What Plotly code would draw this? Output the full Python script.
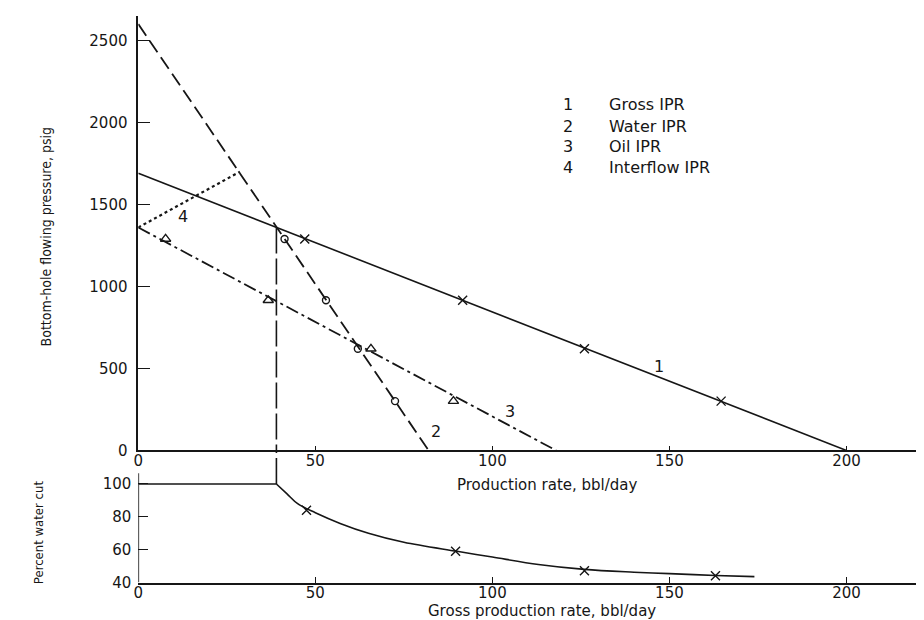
import plotly.graph_objects as go

# ---------------- data ----------------
# IPR lines: production rate (bbl/day) vs bottom-hole flowing pressure (psig)
gross_q = [0, 200]
gross_p = [1690, 0]
water_q = [0, 82]
water_p = [2600, 0]
oil_q = [0, 118]
oil_p = [1360, 0]
interflow_q = [0, 28.7]
interflow_p = [1360, 1700]
# vertical line at the gross/water intersection
cut_q = [39, 39]
cut_p = [1360, 0]
cut_wc = [100, 125]

# test points
test_p = [1290, 916, 620, 301]
gross_pts_q = [47, 91.6, 126, 164.6]
water_pts_q = [41.3, 53, 62, 72.5]
oil_pts_q = [7.7, 36.7, 65.7, 89]

# percent water cut vs gross production rate
wc_flat_q = [0, 39]
wc_flat_v = [100, 100]
wc_q = [39, 42, 45, 50, 57, 65, 75, 90, 100, 113, 126, 140, 150, 163, 174]
wc_v = [100, 94, 88, 82.5, 76, 70, 64.5, 59, 55.5, 51, 48, 46.3, 45.4, 44.3, 43.6]
wc_pts_q = [47.5, 89.6, 126, 163]
wc_pts_v = [84, 59, 47.2, 44.2]

# curve labels
curve_lbl_text = ["1", "2", "3", "4"]
curve_lbl_q = [147, 84, 105, 12.5]
curve_lbl_p = [512, 114, 235, 1428]

legend_nums = ["1", "2", "3", "4"]
legend_labels = ["Gross IPR", "Water IPR", "Oil IPR", "Interflow IPR"]

x_ticks = [0, 50, 100, 150, 200]
p_ticks = [0, 500, 1000, 1500, 2000, 2500]
wc_ticks = [40, 60, 80, 100]

# ---------------- styling ----------------
INK = "#161616"
SANS = "DejaVu Sans, Verdana, sans-serif"
TICKFONT = dict(family=SANS, size=15, color=INK)
TITLEFONT = dict(family=SANS, size=15, color=INK)
NARROW = "Liberation Sans Narrow, DejaVu Sans Condensed, Arial Narrow, sans-serif"

W, H = 924, 620
X0, X1 = 126, 924           # pixel extent of plot area horizontally
TOP_Y0, TOP_Y1 = 449, 8     # top panel pixel extent (bottom, top)
BOT_Y0, BOT_Y1 = 583, 450   # bottom panel pixel extent

def py(px):
    return 1 - px / H

x_range = [0, (X1 - X0) / 3.56]
p_range = [0, (TOP_Y0 - TOP_Y1) / 0.1664]
wc_range = [40, 40 + (BOT_Y0 - BOT_Y1) / (100 / 60.0)]

fig = go.Figure()

def line(x, y, dash="solid", width=1.6, xa="x", ya="y", shape="linear"):
    fig.add_trace(go.Scatter(x=x, y=y, mode="lines", xaxis=xa, yaxis=ya,
                             line=dict(color=INK, width=width, dash=dash, shape=shape),
                             showlegend=False, hoverinfo="skip"))

def marks(x, y, symbol, size, xa="x", ya="y"):
    fig.add_trace(go.Scatter(x=x, y=y, mode="markers", xaxis=xa, yaxis=ya,
                             marker=dict(symbol=symbol, size=size, color=INK,
                                         line=dict(color=INK, width=1.4)),
                             showlegend=False, hoverinfo="skip"))

# top panel
line(gross_q, gross_p, "solid", 1.6)
line(water_q, water_p, "14px,6px", 1.8)
line(oil_q, oil_p, "13px,4px,3px,4px", 1.8)
line(interflow_q, interflow_p, "3px,3px", 2.2)
line(cut_q, cut_p, "26px,5px", 1.6)
marks(gross_pts_q, test_p, "x-thin-open", 9)
marks(water_pts_q, test_p, "circle-open", 7)
marks(oil_pts_q, test_p, "triangle-up-open", 9)

# bottom panel
line(wc_flat_q, wc_flat_v, "solid", 1.6, "x2", "y2")
line(wc_q, wc_v, "solid", 1.6, "x2", "y2", shape="spline")
line(cut_q, cut_wc, "26px,5px", 1.6, "x2", "y2")
marks(wc_pts_q, wc_pts_v, "x-thin-open", 9, "x2", "y2")

axis_common = dict(showgrid=False, zeroline=False, showline=True, linecolor=INK,
                   linewidth=1.6, ticks="inside", tickcolor=INK, tickwidth=1.2,
                   tickfont=TICKFONT)

fig.update_layout(
    width=W, height=H, autosize=False,
    margin=dict(l=0, r=0, t=0, b=0),
    paper_bgcolor="white", plot_bgcolor="rgba(0,0,0,0)",
    xaxis=dict(domain=[X0 / W, 1], range=x_range, anchor="y",
               tickvals=x_ticks, ticklen=5, ticklabelstandoff=-4, **axis_common),
    yaxis=dict(domain=[py(TOP_Y0), py(TOP_Y1)], range=p_range, anchor="x",
               tickvals=p_ticks, ticklen=12, ticklabelstandoff=6, **axis_common),
    xaxis2=dict(domain=[X0 / W, 1], range=x_range, anchor="y2",
                tickvals=x_ticks, ticklen=6, ticklabelstandoff=-4, **axis_common),
    yaxis2=dict(domain=[py(BOT_Y0), py(BOT_Y1)], range=wc_range, anchor="x2",
                tickvals=wc_ticks, ticklen=10, ticklabelstandoff=6,
                **{**axis_common, "showline": False}),
)

# bottom panel y axis line stops just above 100
fig.add_shape(type="line", xref="x2", yref="y2", x0=0, x1=0, y0=40, y1=106.5,
              line=dict(color=INK, width=1.6))

# axis titles
fig.add_annotation(xref="paper", yref="paper", x=537 / W, y=py(484),
                   text="Production rate, bbl/day", showarrow=False,
                   font=TITLEFONT, xanchor="center", yanchor="middle")
fig.add_annotation(xref="paper", yref="paper", x=532 / W, y=py(612),
                   text="Gross production rate, bbl/day", showarrow=False,
                   font=TITLEFONT, xanchor="center", yanchor="middle")
fig.add_annotation(xref="paper", yref="paper", x=33 / W, y=py(232),
                   text="Bottom-hole flowing pressure, psig", showarrow=False,
                   textangle=-90, font=dict(family=NARROW, size=14, color=INK),
                   xanchor="center", yanchor="middle")
fig.add_annotation(xref="paper", yref="paper", x=25 / W, y=py(532),
                   text="Percent water cut", showarrow=False,
                   textangle=-90, font=dict(family=NARROW, size=13, color=INK),
                   xanchor="center", yanchor="middle")

# curve labels
for t, q, p in zip(curve_lbl_text, curve_lbl_q, curve_lbl_p):
    fig.add_annotation(xref="x", yref="y", x=q, y=p, text=t, showarrow=False,
                       font=dict(family=SANS, size=16, color=INK))

# legend block
legend_rows_px = [98, 120, 141, 162]
for n, lab, rpx in zip(legend_nums, legend_labels, legend_rows_px):
    fig.add_annotation(xref="paper", yref="paper", x=558 / W, y=py(rpx), text=n,
                       showarrow=False, xanchor="center", yanchor="middle",
                       font=dict(family=SANS, size=16, color=INK))
    fig.add_annotation(xref="paper", yref="paper", x=597 / W, y=py(rpx), text=lab,
                       showarrow=False, xanchor="left", yanchor="middle",
                       font=dict(family=SANS, size=16, color=INK))

fig.write_html("out.html")
